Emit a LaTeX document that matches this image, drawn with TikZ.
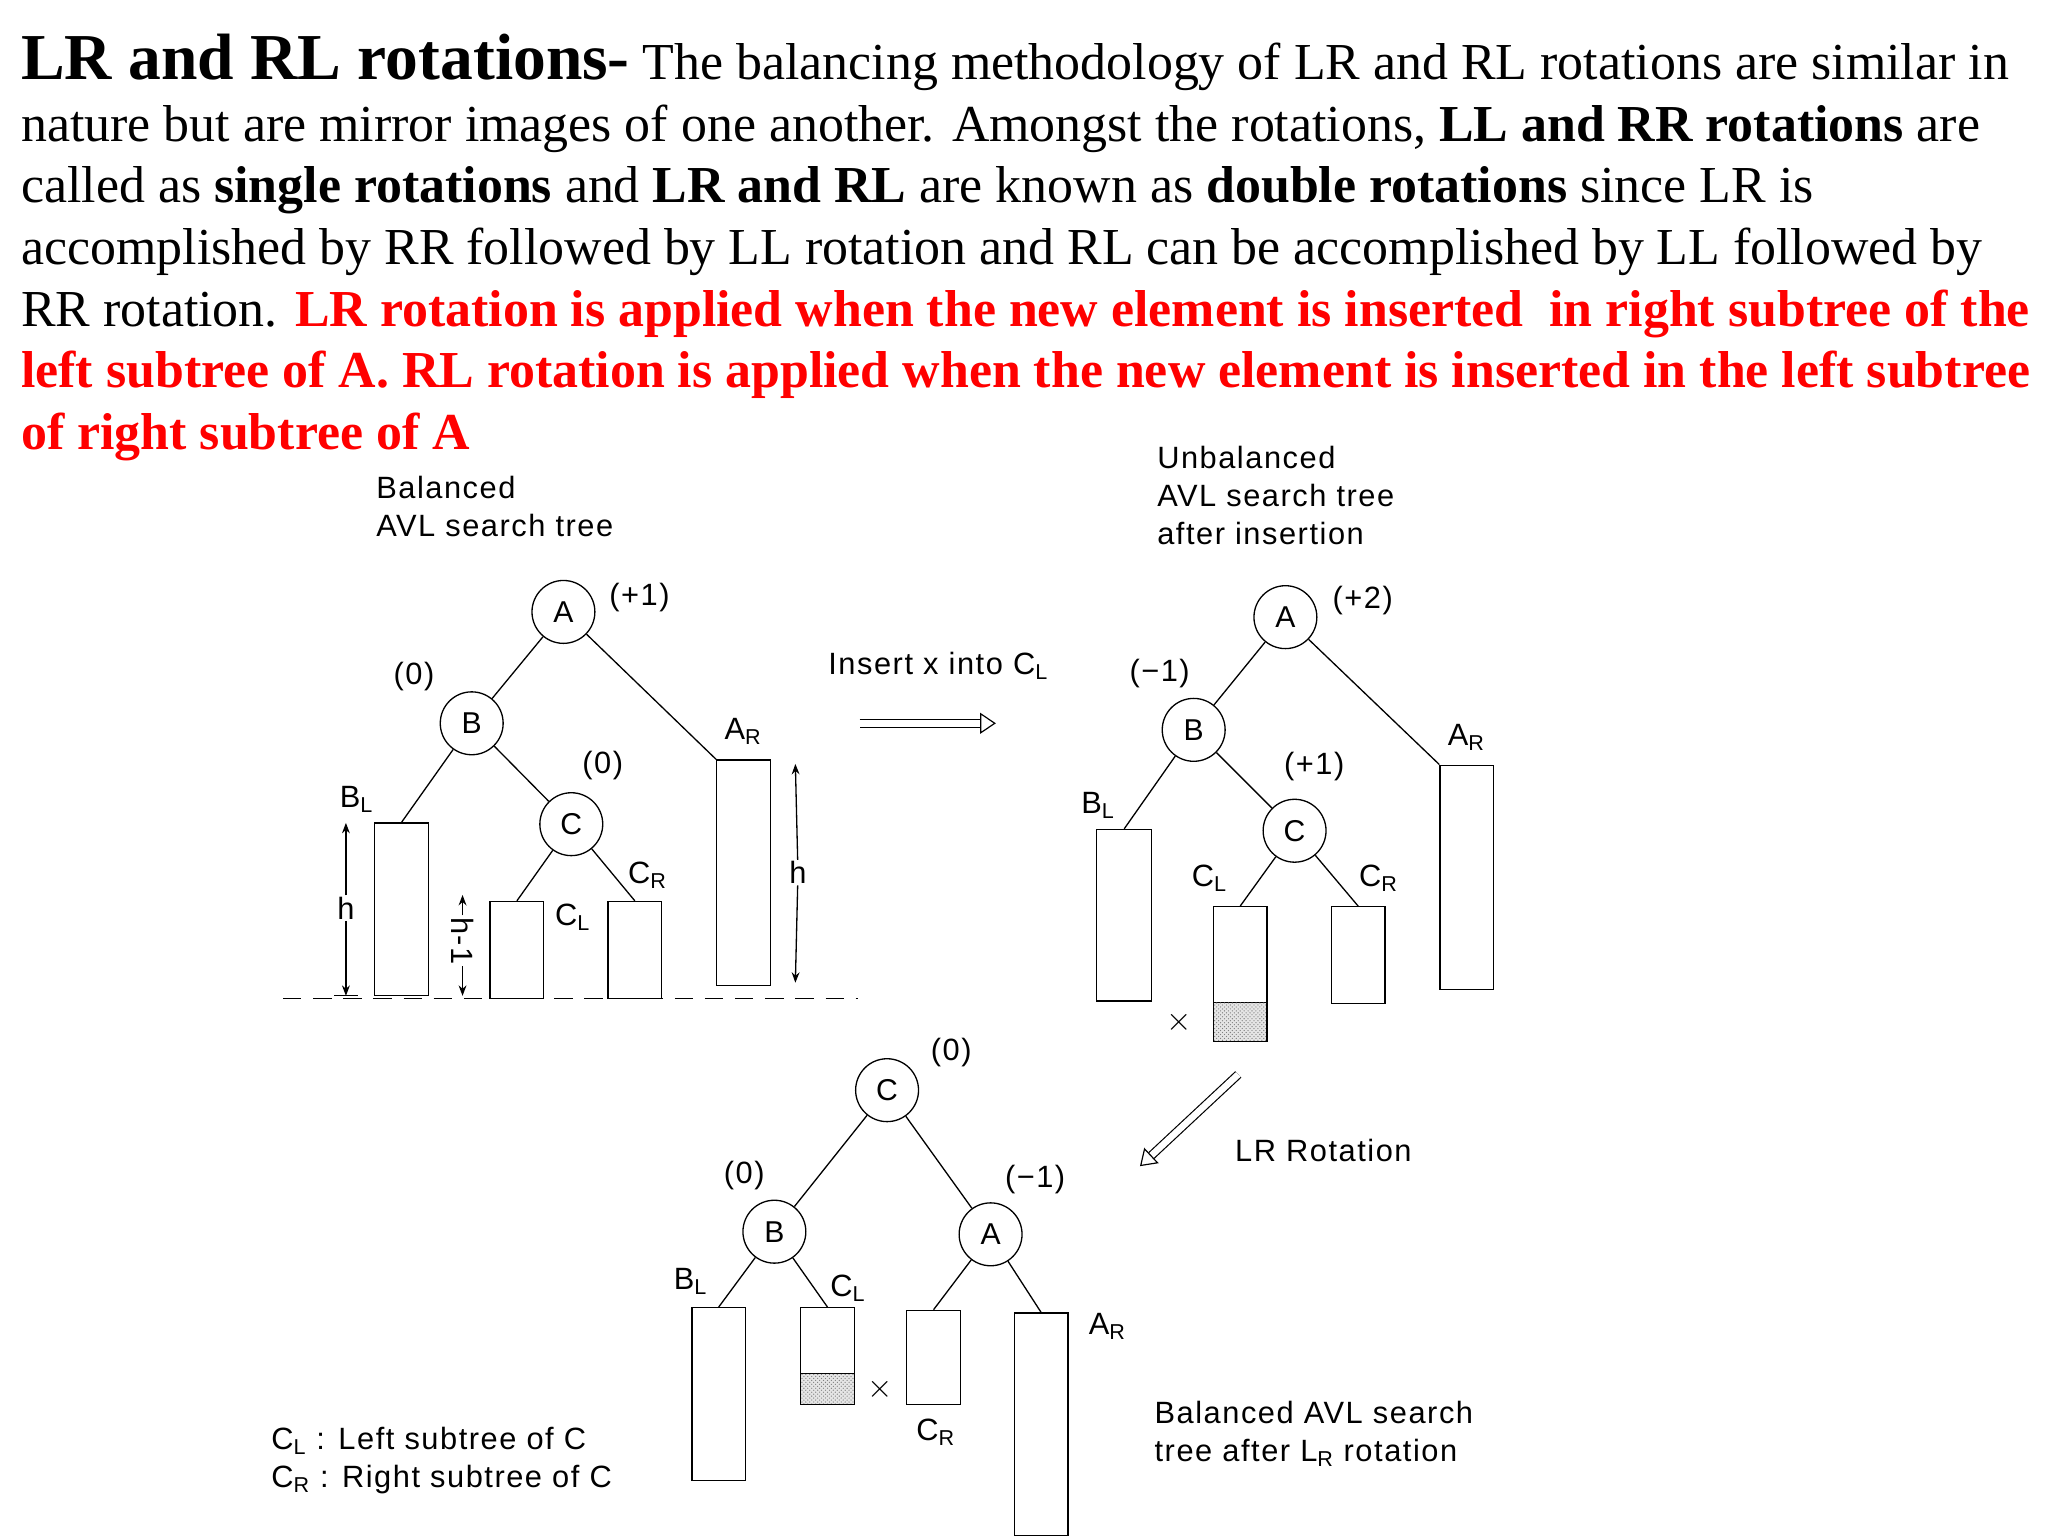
\documentclass[tikz,border=0pt]{standalone}
\usepackage{fontspec}
\setmainfont{Liberation Serif}
\newfontfamily\dsans[LetterSpace=5]{Liberation Sans}
\usetikzlibrary{arrows.meta,patterns}
\tikzset{
 nd/.style={circle,draw,line width=1pt,minimum size=48pt,inner sep=0pt,font=\dsans\fontsize{23}{24}\selectfont},
 lb/.style={font=\dsans\fontsize{23.5}{29}\selectfont,inner sep=1pt},
 tr/.style={draw,line width=1pt},
 ed/.style={line width=1pt},
 shd/.style={fill=gray!20,postaction={pattern=crosshatch dots,pattern color=gray},draw,line width=1pt},
 dbl/.style={double,double distance=5pt,line width=0.9pt,-{Triangle[open,length=12pt,width=16pt]}},
 harr/.style={line width=1pt,-{Stealth[length=8pt]}}
}
\newcommand{\sL}{\textsubscript{L}}
\newcommand{\sR}{\textsubscript{R}}
\begin{document}
\begin{tikzpicture}[x=1pt,y=-1pt]
\useasboundingbox (0,0) rectangle (1563,1175);
\node[anchor=north west,inner sep=0pt,align=left,font=\fontsize{39.6}{47}\selectfont] (txt) at (16,26) {%
{\fontsize{50}{47}\selectfont\bfseries LR and RL rotations-} The balancing methodology of LR and RL rotations are similar in\\
nature but are mirror images of one another. Amongst the rotations, \textbf{LL and RR rotations} are\\
called as \textbf{single rotations} and \textbf{LR and RL} are known as \textbf{double rotations} since LR is\\
accomplished by RR followed by LL rotation and RL can be accomplished by LL followed by\\
RR rotation. \textcolor{red}{\bfseries LR rotation is applied when the new element is inserted\ \ in right subtree of the}\\
\textcolor{red}{\bfseries left subtree of A. RL rotation is applied when the new element is inserted in the left subtree}\\
\textcolor{red}{\bfseries of right subtree of A}};

% Tree 1
\node[lb,anchor=north west,align=left] (t1) at (286,362) {Balanced\\AVL search tree};
\node[nd] (A1) at (430,467) {A};
\node[nd] (B1) at (360,552) {B};
\node[nd] (C1) at (436,629) {C};
\node[lb] (pA1) at (488,456) {(+1)};
\node[lb] (pB1) at (316,516) {(0)};
\node[lb] (pC1) at (460,584) {(0)};
\node[tr,minimum width=41pt,minimum height=172pt,inner sep=0pt] (AR1) at (567.5,666) {};
\node[lb] (lAR1) at (567,558) {A\sR};
\node[tr,minimum width=41pt,minimum height=132pt,inner sep=0pt] (BL1) at (306.5,694) {};
\node[lb] (lBL1) at (272,610) {B\sL};
\node[tr,minimum width=41pt,minimum height=74pt,inner sep=0pt] (CL1) at (394.5,725) {};
\node[tr,minimum width=41pt,minimum height=74pt,inner sep=0pt] (CR1) at (484.5,725) {};
\node[lb] (lCL1) at (437,700) {C\sL};
\node[lb] (lCR1) at (494,668) {C\sR};
\draw[ed] (A1) -- (B1); \draw[ed] (A1) -- (AR1.north west);
\draw[ed] (B1) -- (BL1.north); \draw[ed] (B1) -- (C1);
\draw[ed] (C1) -- (CL1.north); \draw[ed] (C1) -- (CR1.north);
\draw[dashed,dash pattern=on 14pt off 9pt,line width=1pt] (216,762) coordinate (d1) -- (655,762) coordinate (d2);
\node[lb,fill=white] (h1) at (264,693) {h};
\draw[harr] (h1) -- (264,628); \draw[harr] (h1) -- (264,760);
\draw[line width=1pt] (255,760) -- (273,760);
\node[lb,fill=white,rotate=-90] (h2) at (353,718) {h-1};
\draw[harr] (h2) -- (353,683); \draw[harr] (h2) -- (353,760);
\node[lb,fill=white] (h3) at (609,666) {h};
\draw[harr] (h3) -- (607,583); \draw[harr] (h3) -- (607,750);

% middle
\node[lb] (ins) at (716,508) {Insert x into C\sL};
\draw[dbl] (656,552) coordinate (m1) -- (760,552) coordinate (m2);

% Tree 2
\node[lb,anchor=north west,align=left] (t2) at (882,339) {Unbalanced\\AVL search tree\\after insertion};
\node[nd] (A2) at (981,471) {A};
\node[nd] (B2) at (911,557) {B};
\node[nd] (C2) at (988,634) {C};
\node[lb] (pA2) at (1040,458) {(+2)};
\node[lb] (pB2) at (885,514) {(−1)};
\node[lb] (pC2) at (1003,585) {(+1)};
\node[tr,minimum width=41pt,minimum height=171pt,inner sep=0pt] (AR2) at (1119.5,669.5) {};
\node[lb] (lAR2) at (1119,563) {A\sR};
\node[tr,minimum width=42pt,minimum height=131pt,inner sep=0pt] (BL2) at (858,698.5) {};
\node[lb] (lBL2) at (838,615) {B\sL};
\node[shd,minimum width=41pt,minimum height=30pt,inner sep=0pt] (CLs2) at (946.5,780) {};
\node[tr,minimum width=41pt,minimum height=103pt,inner sep=0pt] (CL2) at (946.5,743.5) {};
\node[tr,minimum width=41pt,minimum height=74pt,inner sep=0pt] (CR2) at (1036.5,729) {};
\node[lb] (lCL2) at (923,670) {C\sL};
\node[lb] (lCR2) at (1052,670) {C\sR};
\node[lb] (x2) at (900,780) {$\times$};
\draw[ed] (A2) -- (B2); \draw[ed] (A2) -- (AR2.north west);
\draw[ed] (B2) -- (BL2.north); \draw[ed] (B2) -- (C2);
\draw[ed] (C2) -- (CL2.north); \draw[ed] (C2) -- (CR2.north);

% LR arrow
\draw[dbl] (945,820) coordinate (r1) -- (870,890) coordinate (r2);
\node[lb] (lr) at (1010,878) {LR Rotation};

% Tree 3
\node[nd] (C3) at (677,832) {C};
\node[nd] (B3) at (591,940) {B};
\node[nd] (A3) at (756,942) {A};
\node[lb] (pC3) at (726,803) {(0)};
\node[lb] (pB3) at (568,897) {(0)};
\node[lb] (pA3) at (790,900) {(−1)};
\node[tr,minimum width=41pt,minimum height=132pt,inner sep=0pt] (BL3) at (548.5,1064) {};
\node[lb] (lBL3) at (527,978) {B\sL};
\node[shd,minimum width=41pt,minimum height=24pt,inner sep=0pt] (CLs3) at (631.5,1060) {};
\node[tr,minimum width=41pt,minimum height=74pt,inner sep=0pt] (CL3) at (631.5,1035) {};
\node[lb] (lCL3) at (647,983) {C\sL};
\node[lb] (x3) at (672,1060) {$\times$};
\node[tr,minimum width=41pt,minimum height=72pt,inner sep=0pt] (CR3) at (712.5,1036) {};
\node[lb] (lCR3) at (714,1093) {C\sR};
\node[tr,minimum width=41pt,minimum height=170pt,inner sep=0pt] (AR3) at (794.5,1087) {};
\node[lb] (lAR3) at (845,1012) {A\sR};
\draw[ed] (C3) -- (B3); \draw[ed] (C3) -- (A3);
\draw[ed] (B3) -- (BL3.north); \draw[ed] (B3) -- (CL3.north);
\draw[ed] (A3) -- (CR3.north); \draw[ed] (A3) -- (AR3.north);

\node[lb,anchor=west,align=left] (leg) at (206,1115) {C\sL\ : Left subtree of C\\C\sR\ : Right subtree of C};
\node[lb,anchor=west,align=left] (t3) at (880,1094) {Balanced AVL search\\tree after L\sR\ rotation};
\end{tikzpicture}
\end{document}
